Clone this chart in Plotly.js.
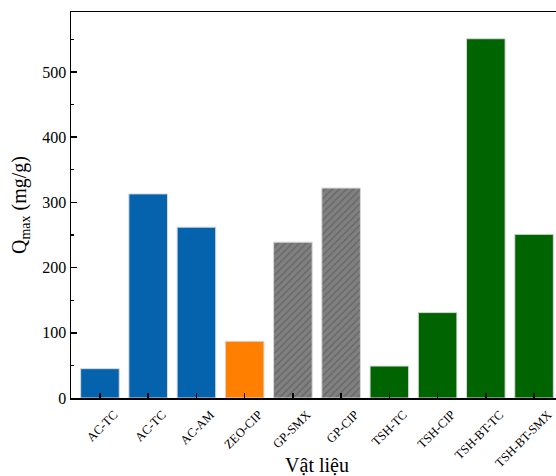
<!DOCTYPE html>
<html>
<head>
<meta charset="utf-8">
<script src="https://cdn.plot.ly/plotly-3.0.1.min.js"></script>
<style>
html,body{margin:0;padding:0;overflow:hidden;width:556px;height:476px;background:#fff;}
#chart{width:580px;height:476px;}
</style>
</head>
<body>
<div id="chart"></div>
<script>
const categories = ["AC-TC","AC-TC","AC-AM","ZEO-CIP","GP-SMX","GP-CIP","TSH-TC","TSH-CIP","TSH-BT-TC","TSH-BT-SMX"];
const qmax = [45, 313, 262, 87, 239, 322, 49, 131, 551, 251];
const barColors = ["#0563AD","#0563AD","#0563AD","#FF8000","#808080","#808080","#006400","#006400","#006400","#006400"];
const hatch = ["","","","","/","/","","","",""];

const xIdx = categories.map((_, i) => i);

const trace = {
  type: "bar",
  x: xIdx,
  y: qmax,
  width: 0.8,
  marker: {
    color: barColors,
    line: {color: "#d8d8d8", width: 1},
    pattern: {shape: hatch, fillmode: "overlay", fgcolor: "#333333", size: 5, solidity: 0.22}
  },
  hoverinfo: "x+y"
};

const axisFont = {family: "Liberation Serif, Times New Roman, serif", color: "#000"};

const layout = {
  width: 580,
  height: 476,
  margin: {l: 71, r: 17, t: 12, b: 78},
  paper_bgcolor: "#fff",
  plot_bgcolor: "#fff",
  showlegend: false,
  bargap: 0.2,
  xaxis: {
    range: [-0.6, 9.6],
    tickmode: "array",
    tickvals: xIdx,
    ticktext: categories,
    tickangle: -45,
    ticklabelshift: 14,
    ticklabelstandoff: 3,
    tickfont: Object.assign({size: 12.5}, axisFont),
    ticks: "inside",
    ticklen: 5,
    tickwidth: 1.5,
    tickcolor: "#000",
    showline: true,
    linecolor: "#000",
    linewidth: 1.5,
    mirror: true,
    showgrid: false,
    zeroline: false,
    title: {text: "Vật liệu", font: Object.assign({size: 20}, axisFont), standoff: 2}
  },
  yaxis: {
    range: [0, 592],
    tickvals: [0, 100, 200, 300, 400, 500],
    tickfont: Object.assign({size: 16}, axisFont),
    ticks: "inside",
    ticklen: 6,
    tickwidth: 1.5,
    tickcolor: "#000",
    minor: {tickvals: [50, 150, 250, 350, 450, 550], ticks: "inside", ticklen: 3, tickwidth: 1.2, tickcolor: "#000", showgrid: false},
    showline: true,
    linecolor: "#000",
    linewidth: 1.5,
    mirror: true,
    showgrid: false,
    zeroline: false,
    title: {text: "Q<sub>max</sub> (mg/g)", font: Object.assign({size: 20}, axisFont), standoff: 10}
  }
};

Plotly.newPlot("chart", [trace], layout, {displayModeBar: false, staticPlot: true});
</script>
</body>
</html>
